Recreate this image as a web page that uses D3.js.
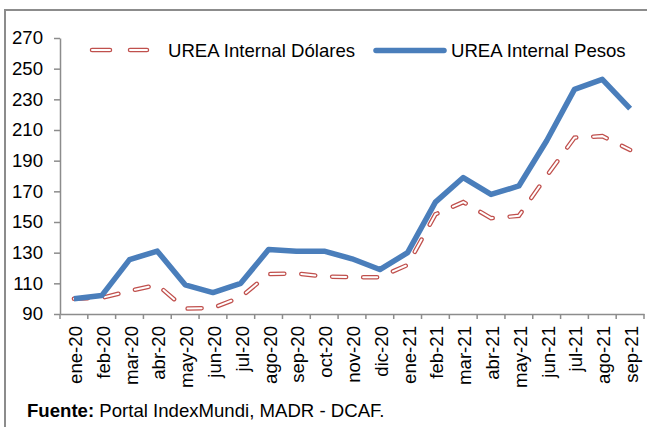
<!DOCTYPE html>
<html>
<head>
<meta charset="utf-8">
<script src="https://cdnjs.cloudflare.com/ajax/libs/d3/7.8.5/d3.min.js"></script>
<style>
  body { margin: 0; background: #fff; }
  svg { display: block; font-family: "Liberation Sans", Arial, sans-serif; }
  svg text { font-family: "Liberation Sans", Arial, sans-serif; }
</style>
</head>
<body>
<svg id="chart" width="647" height="427"></svg>
<script>
// meses ene-20 .. sep-21
const months = ['ene-20', 'feb-20', 'mar-20', 'abr-20', 'may-20', 'jun-20', 'jul-20',
  'ago-20', 'sep-20', 'oct-20', 'nov-20', 'dic-20', 'ene-21', 'feb-21', 'mar-21',
  'abr-21', 'may-21', 'jun-21', 'jul-21', 'ago-21', 'sep-21'];
const dolares = [100, 100.5, 105, 109, 93.5, 94, 101, 116, 116.5, 114.5, 114, 114,
  122, 155, 163, 152.5, 154, 180, 205, 206, 197];
const pesos = [100, 102, 125.5, 131, 109, 104, 110, 132, 131, 131, 126, 119,
  130, 163, 179, 168, 173.5, 203, 236.5, 243, 224];
const yTicks = [90, 110, 130, 150, 170, 190, 210, 230, 250, 270];

const svg = d3.select('#chart');
const margin = { left: 60, right: 3, top: 38, bottom: 113 };
const W = 647, H = 427;
const FS = '18.6px';

// marco exterior
svg.append('path')
  .attr('d', `M5,${H} V10 H${W}`)
  .attr('fill', 'none')
  .attr('stroke', '#8c8c8c')
  .attr('stroke-width', 2);

const x = d3.scaleBand().domain(months).range([margin.left, W - margin.right]);
const y = d3.scaleLinear().domain([90, 270]).range([H - margin.bottom, margin.top]);

// eje Y
const yAxis = svg.append('g')
  .attr('transform', `translate(${margin.left},0)`)
  .call(d3.axisLeft(y).tickValues(yTicks).tickSize(6).tickPadding(11).tickSizeOuter(0));

// eje X
const xAxis = svg.append('g')
  .attr('transform', `translate(0,${y(90)})`)
  .call(d3.axisBottom(x).tickSize(0).tickSizeOuter(0).tickFormat(''));

// marcas entre categorías
const bounds = d3.range(months.length + 1).map(i => margin.left + i * x.step());
xAxis.selectAll('.sep')
  .data(bounds)
  .join('line')
  .attr('x1', d => d).attr('x2', d => d)
  .attr('y1', 0).attr('y2', 5)
  .attr('stroke', '#8c8c8c')
  .attr('stroke-width', 1.5);

xAxis.selectAll('.lbl')
  .data(months)
  .join('text')
  .attr('transform', d => `translate(${x(d) + x.bandwidth() / 2 + 8},12) rotate(-90)`)
  .attr('text-anchor', 'end')
  .attr('fill', '#000')
  .style('font-size', FS)
  .text(d => d);

[yAxis, xAxis].forEach(a => {
  a.select('.domain').attr('stroke', '#8c8c8c').attr('stroke-width', 1.5);
  a.selectAll('.tick line').attr('stroke', '#8c8c8c').attr('stroke-width', 1.5);
});
yAxis.selectAll('.tick text').attr('fill', '#000').style('font-size', FS);

const line = d3.line()
  .x((d, i) => x(months[i]) + x.bandwidth() / 2)
  .y(d => y(d));

// serie dólares: trazo rojo hueco discontinuo
const dash = '14,17';
svg.append('path')
  .datum(dolares)
  .attr('d', line)
  .attr('fill', 'none')
  .attr('stroke', '#c0504d')
  .attr('stroke-width', 4.5)
  .attr('stroke-linecap', 'round')
  .attr('stroke-dasharray', dash);
svg.append('path')
  .datum(dolares)
  .attr('d', line)
  .attr('fill', 'none')
  .attr('stroke', '#fff')
  .attr('stroke-width', 2)
  .attr('stroke-linecap', 'round')
  .attr('stroke-dasharray', dash);

// serie pesos
svg.append('path')
  .datum(pesos)
  .attr('d', line)
  .attr('fill', 'none')
  .attr('stroke', '#4a7ebb')
  .attr('stroke-width', 5.5)
  .attr('stroke-linejoin', 'round');

// leyenda
const lg = svg.append('g');
lg.append('line')
  .attr('x1', 92).attr('x2', 147).attr('y1', 50).attr('y2', 50)
  .attr('stroke', '#c0504d').attr('stroke-width', 4.5)
  .attr('stroke-linecap', 'round').attr('stroke-dasharray', '18,20');
lg.append('line')
  .attr('x1', 92).attr('x2', 147).attr('y1', 50).attr('y2', 50)
  .attr('stroke', '#fff').attr('stroke-width', 2)
  .attr('stroke-linecap', 'round').attr('stroke-dasharray', '18,20');
lg.append('text')
  .attr('x', 168).attr('y', 57)
  .style('font-size', FS)
  .text('UREA Internal Dólares');
lg.append('line')
  .attr('x1', 376).attr('x2', 444).attr('y1', 50.5).attr('y2', 50.5)
  .attr('stroke', '#4a7ebb').attr('stroke-width', 5.5)
  .attr('stroke-linecap', 'round');
lg.append('text')
  .attr('x', 451).attr('y', 57)
  .style('font-size', FS)
  .text('UREA Internal Pesos');

// fuente
const ft = svg.append('text')
  .attr('x', 27).attr('y', 417)
  .style('font-size', FS);
ft.append('tspan').style('font-weight', 'bold').text('Fuente:');
ft.append('tspan').text(' Portal IndexMundi, MADR - DCAF.');
</script>
</body>
</html>
